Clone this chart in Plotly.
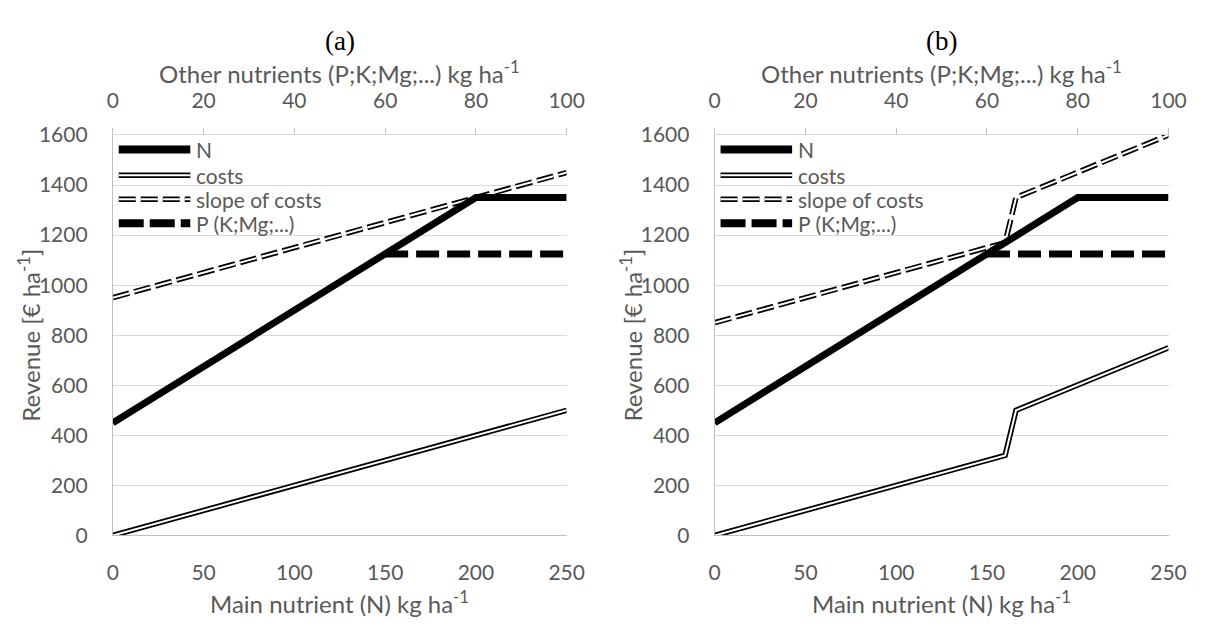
import plotly.graph_objects as go

# ---------------- data ----------------
n_x = [0, 200, 250]
n_y = [450, 1350, 1350]

costs_a_x = [0, 250]
costs_a_y = [0, 500]
slope_a_x = [0, 250]
slope_a_y = [950, 1450]
p_a_x = [150, 250]
p_a_y = [1125, 1125]

costs_b_x = [0, 160, 166, 250]
costs_b_y = [0, 320, 500, 750]
slope_b_x = [0, 160, 166, 250]
slope_b_y = [850, 1170, 1350, 1600]
p_b_x = [150, 250]
p_b_y = [1125, 1125]

panel_titles = ["(a)", "(b)"]
legend_labels = ["N", "costs", "slope of costs", "P (K;Mg;...)"]
main_ticks = [0, 50, 100, 150, 200, 250]
other_ticks = [0, 20, 40, 60, 80, 100]
y_ticks = [0, 200, 400, 600, 800, 1000, 1200, 1400, 1600]

# ---------------- style ----------------
W, H = 1212, 630
FONT = "Lato"
GREY = "#595959"
GRID = "#d9d9d9"
AXL = "#bfbfbf"
TICKSZ = 21
TITLESZ = 24

px_left = [109, 723]
px_width = 463
px_top, px_bottom = 126, 543

fig = go.Figure()

panels = [
    dict(costs=(costs_a_x, costs_a_y), slope=(slope_a_x, slope_a_y), p=(p_a_x, p_a_y)),
    dict(costs=(costs_b_x, costs_b_y), slope=(slope_b_x, slope_b_y), p=(p_b_x, p_b_y)),
]

SLOPE_DASH = "17px,5px"
P_DASH = "23px,8px"

for i, pdata in enumerate(panels):
    xa = "x" if i == 0 else "x2"
    ya = "y" if i == 0 else "y2"
    xt = "x3" if i == 0 else "x4"
    cx, cy = pdata["costs"]
    sx, sy = pdata["slope"]
    ppx, ppy = pdata["p"]
    common = dict(xaxis=xa, yaxis=ya, mode="lines", showlegend=False, hoverinfo="skip")
    # costs (double line)
    fig.add_trace(go.Scatter(x=cx, y=cy, line=dict(color="black", width=5.5), **common))
    fig.add_trace(go.Scatter(x=cx, y=cy, line=dict(color="white", width=2), **common))
    # slope of costs (dashed double line)
    fig.add_trace(go.Scatter(x=sx, y=sy, line=dict(color="black", width=5.5, dash=SLOPE_DASH), **common))
    fig.add_trace(go.Scatter(x=sx, y=sy, line=dict(color="white", width=2, dash=SLOPE_DASH), **common))
    # P (K;Mg;...)
    fig.add_trace(go.Scatter(x=ppx, y=ppy, line=dict(color="black", width=7, dash=P_DASH), **common))
    # N
    fig.add_trace(go.Scatter(x=n_x, y=n_y, line=dict(color="black", width=7), **common))
    # invisible trace for the top axis
    fig.add_trace(go.Scatter(x=[other_ticks[0], other_ticks[-1]], y=[None, None], xaxis=xt, yaxis=ya,
                             mode="lines", showlegend=False, hoverinfo="skip"))

def dom_x(i):
    return [px_left[i] / W, (px_left[i] + px_width) / W]

ydom = [1 - px_bottom / H, 1 - px_top / H]

tickfont = dict(family=FONT, size=TICKSZ, color=GREY)

layout = dict(
    width=W, height=H, autosize=False,
    margin=dict(l=0, r=0, t=0, b=0),
    paper_bgcolor="white", plot_bgcolor="white",
    showlegend=False,
)

for i in range(2):
    xa = "xaxis" if i == 0 else "xaxis2"
    ya = "yaxis" if i == 0 else "yaxis2"
    xt = "xaxis3" if i == 0 else "xaxis4"
    yname = "y" if i == 0 else "y2"
    xname = "x" if i == 0 else "x2"
    layout[xa] = dict(domain=dom_x(i), anchor=yname, range=[0, 250], tickvals=main_ticks,
                      showgrid=False, zeroline=False, showline=True, linecolor=AXL, linewidth=1,
                      ticks="", tickfont=tickfont, ticklabelstandoff=18, fixedrange=True)
    layout[ya] = dict(domain=ydom, anchor=xname, range=[0, 1600], tickvals=y_ticks,
                      showgrid=True, gridcolor=GRID, gridwidth=1, zeroline=False,
                      showline=True, linecolor=AXL, linewidth=1, ticks="",
                      tickfont=tickfont, ticklabelstandoff=20, fixedrange=True)
    layout[xt] = dict(overlaying=xname, anchor=yname, side="top", range=[0, 100], tickvals=other_ticks,
                      showgrid=False, zeroline=False, showline=True, linecolor=GRID, linewidth=1,
                      ticks="outside", ticklen=6, tickcolor=AXL, tickfont=tickfont,
                      ticklabelstandoff=12, fixedrange=True)

fig.update_layout(**layout)

annotations = []
shapes = []
sup = "<sup>-1</sup>"
for i in range(2):
    x0, x1 = dom_x(i)
    xc = (x0 + x1) / 2
    annotations.append(dict(text=panel_titles[i], x=xc, y=1 - 28 / H, xref="paper", yref="paper",
                            showarrow=False, font=dict(family="Liberation Serif", size=27, color="black"),
                            xanchor="center", yanchor="middle"))
    annotations.append(dict(text="Other nutrients (P;K;Mg;...) kg ha" + sup, x=xc, y=1 - 60 / H,
                            xref="paper", yref="paper", showarrow=False,
                            font=dict(family=FONT, size=TITLESZ, color=GREY), xanchor="center", yanchor="middle"))
    annotations.append(dict(text="Main nutrient (N) kg ha" + sup, x=xc, y=1 - 612 / H,
                            xref="paper", yref="paper", showarrow=False,
                            font=dict(family=FONT, size=TITLESZ, color=GREY), xanchor="center", yanchor="middle"))
    annotations.append(dict(text="Revenue [€ ha" + sup + "]", x=(24 + 614 * i) / W,
                            y=1 - ((px_top + px_bottom) / 2) / H, xref="paper", yref="paper",
                            showarrow=False, textangle=-90,
                            font=dict(family=FONT, size=TITLESZ, color=GREY), xanchor="center", yanchor="middle"))

    # manual legend
    xd = "x domain" if i == 0 else "x2 domain"
    yd = "y domain" if i == 0 else "y2 domain"
    lx0, lx1, tx = 6 / px_width, 79 / px_width, 83 / px_width
    rows = [141, 168, 193, 218]
    ry = [(px_bottom - r) / (px_bottom - px_top) for r in rows]
    styles = [
        [dict(color="black", width=8)],
        [dict(color="black", width=5.5), dict(color="white", width=2)],
        [dict(color="black", width=5.5, dash=SLOPE_DASH), dict(color="white", width=2, dash=SLOPE_DASH)],
        [dict(color="black", width=8, dash="25px,6px")],
    ]
    for k in range(4):
        for st in styles[k]:
            shapes.append(dict(type="line", xref=xd, yref=yd, x0=lx0, x1=lx1, y0=ry[k], y1=ry[k], line=st))
        annotations.append(dict(text=legend_labels[k], x=tx, y=ry[k], xref=xd, yref=yd, showarrow=False,
                                xanchor="left", yanchor="middle",
                                font=dict(family=FONT, size=TICKSZ, color=GREY)))

fig.update_layout(annotations=annotations, shapes=shapes)

fig.write_html("out.html")
